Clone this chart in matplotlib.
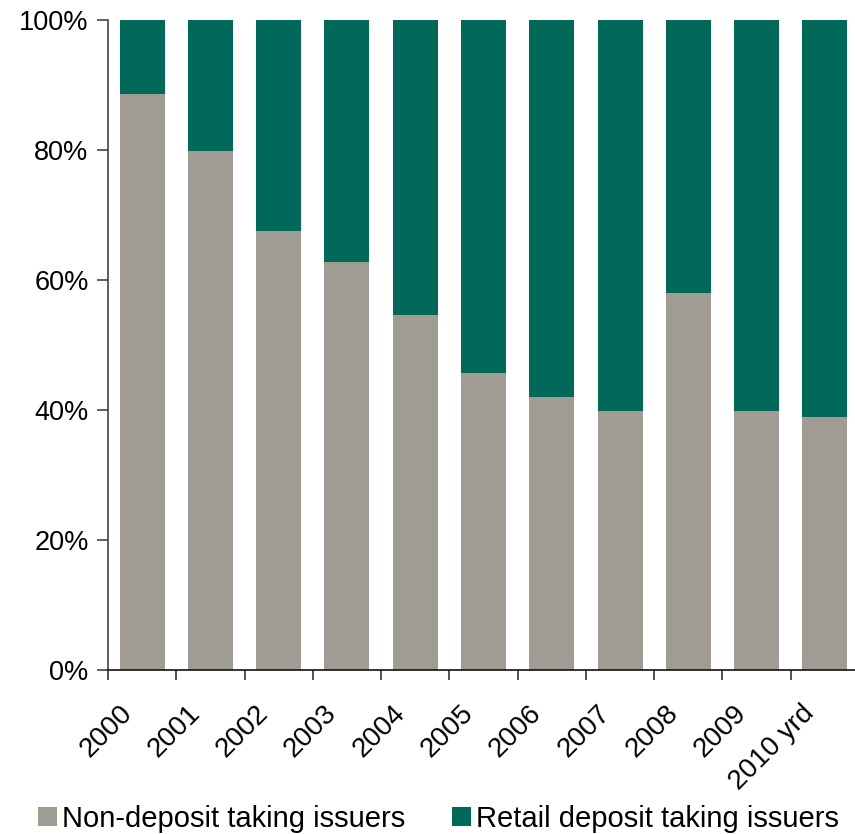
import matplotlib
matplotlib.use("Agg")
import matplotlib.pyplot as plt
import matplotlib.transforms as mtransforms
import numpy as np

categories = ["2000", "2001", "2002", "2003", "2004", "2005", "2006", "2007", "2008", "2009", "2010 yrd"]
non_deposit = [88.6, 79.8, 67.5, 62.8, 54.6, 45.7, 42.0, 39.8, 58.0, 39.8, 38.9]
retail_deposit = [100 - v for v in non_deposit]
series_names = ["Non-deposit taking issuers", "Retail deposit taking issuers"]
y_ticks = [0, 20, 40, 60, 80, 100]
y_tick_labels = ["0%", "20%", "40%", "60%", "80%", "100%"]

GRAY = "#A09B93"
GREEN = "#00695A"

plt.rcParams['font.family'] = ['Liberation Sans', 'DejaVu Sans']

W, H = 855, 834
fig = plt.figure(figsize=(W / 100, H / 100), dpi=100)
left, right, top, bottom = 108, 859, 20, 670
ax = fig.add_axes([left / W, 1 - bottom / H, (right - left) / W, (bottom - top) / H])

x = np.arange(len(categories))
b1 = ax.bar(x, non_deposit, width=0.66, color=GRAY, label=series_names[0])
b2 = ax.bar(x, retail_deposit, width=0.66, bottom=non_deposit, color=GREEN, label=series_names[1])

ax.set_xlim(-0.5, len(categories) - 0.5)
ax.set_ylim(0, 100)
ax.set_yticks(y_ticks)
ax.set_yticklabels(y_tick_labels, fontsize=19.5)
ax.tick_params(axis='y', direction='out', length=8, width=1.2, color='#444444', pad=6)

ax.set_xticks(x)
ax.set_xticklabels(categories, fontsize=20, rotation=45, ha='right', va='top')
ax.tick_params(axis='x', which='major', length=0, pad=22)
ax.set_xticks(np.arange(len(categories)) - 0.5, minor=True)
ax.tick_params(axis='x', which='minor', direction='out', length=7, width=1.2, color='#333333')
offset = mtransforms.ScaledTranslation(-5 / 100, 0, fig.dpi_scale_trans)
for lbl in ax.get_xticklabels():
    lbl.set_transform(lbl.get_transform() + offset)

for s in ['top', 'right']:
    ax.spines[s].set_visible(False)
ax.spines['left'].set_color('#444444')
ax.spines['left'].set_linewidth(1.2)
ax.spines['bottom'].set_color('#111111')
ax.spines['bottom'].set_linewidth(1.2)

leg = fig.legend(handles=[b1, b2], labels=series_names, loc='lower left',
                 bbox_to_anchor=(38 / W, 1 / H), ncol=2, frameon=False,
                 fontsize=21, handlelength=0.64, handleheight=0.64,
                 handletextpad=0.18, columnspacing=1.6, borderpad=0, borderaxespad=0)

fig.savefig("out.png", dpi=100)
